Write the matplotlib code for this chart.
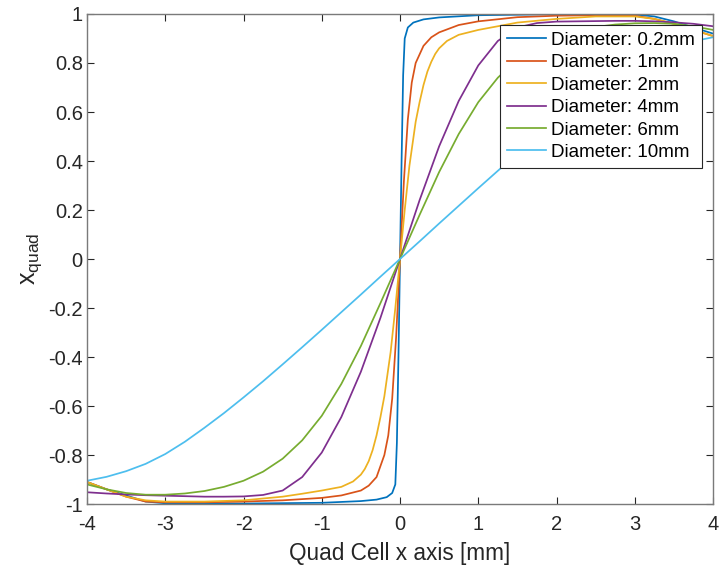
import matplotlib
matplotlib.use("Agg")
import matplotlib.pyplot as plt
from matplotlib.ticker import FormatStrFormatter

plt.rcParams['font.family'] = ['Liberation Sans', 'DejaVu Sans']
plt.rcParams['mathtext.fontset'] = 'custom'
plt.rcParams['mathtext.rm'] = 'Liberation Sans'
plt.rcParams['mathtext.it'] = 'Liberation Sans'
plt.rcParams['axes.unicode_minus'] = False

# beam diameter sweep
labels = ['Diameter: 0.2mm', 'Diameter: 1mm', 'Diameter: 2mm',
          'Diameter: 4mm', 'Diameter: 6mm', 'Diameter: 10mm']

x_02 = [-4, -3.75, -3.5, -3.25, -3, -2, -1, -0.5, -0.3, -0.17, -0.1, -0.06, -0.04, -0.02, 0,
        0.02, 0.04, 0.06, 0.1, 0.17, 0.3, 0.5, 1, 2, 3, 3.25, 3.5, 3.75, 4]
y_02 = [-0.91, -0.94, -0.965, -0.99, -0.997, -0.998, -0.995, -0.988, -0.982, -0.972, -0.955, -0.92, -0.75, -0.4, 0,
        0.4, 0.75, 0.9, 0.945, 0.965, 0.978, 0.986, 0.995, 0.999, 0.998, 0.99, 0.97, 0.945, 0.92]

x_1 = [-4, -3.75, -3.5, -3.25, -3, -2.5, -2, -1.5, -1, -0.75, -0.5, -0.4, -0.3, -0.2, -0.15, -0.1, -0.05, 0,
       0.05, 0.1, 0.15, 0.2, 0.3, 0.4, 0.5, 0.75, 1, 1.5, 2, 2.5, 3, 3.25, 3.5, 3.75, 4]
y_1 = [-0.91, -0.94, -0.97, -0.99, -0.993, -0.993, -0.99, -0.985, -0.975, -0.965, -0.945, -0.925, -0.89, -0.8, -0.72, -0.57, -0.32, 0,
       0.32, 0.57, 0.72, 0.8, 0.87, 0.905, 0.925, 0.955, 0.97, 0.987, 0.993, 0.995, 0.993, 0.98, 0.96, 0.935, 0.91]

x_2 = [-4, -3.75, -3.5, -3.25, -3, -2.5, -2, -1.5, -1.25, -1, -0.75, -0.6, -0.5, -0.45, -0.4, -0.35, -0.3, -0.25, -0.2, -0.12, -0.06, 0,
       0.06, 0.12, 0.2, 0.25, 0.3, 0.35, 0.4, 0.45, 0.5, 0.6, 0.75, 1, 1.25, 1.5, 2, 2.5, 3, 3.25, 3.5, 3.75, 4]
y_2 = [-0.91, -0.94, -0.97, -0.985, -0.99, -0.99, -0.985, -0.97, -0.958, -0.945, -0.93, -0.908, -0.88, -0.857, -0.825, -0.78, -0.72, -0.645, -0.56, -0.38, -0.2, 0,
       0.2, 0.38, 0.56, 0.64, 0.71, 0.765, 0.805, 0.837, 0.86, 0.89, 0.915, 0.935, 0.95, 0.965, 0.98, 0.99, 0.99, 0.98, 0.96, 0.935, 0.91]

x_4 = [-4, -3.75, -3.5, -3.25, -3, -2.75, -2.5, -2.25, -2, -1.75, -1.5, -1.25, -1, -0.75, -0.5, -0.25, 0,
       0.25, 0.5, 0.75, 1, 1.25, 1.5, 1.75, 2, 2.25, 2.5, 2.75, 3, 3.25, 3.5, 3.75, 4]
y_4 = [-0.952, -0.957, -0.961, -0.964, -0.966, -0.968, -0.97, -0.97, -0.969, -0.963, -0.945, -0.89, -0.79, -0.645, -0.46, -0.24, 0,
       0.24, 0.46, 0.645, 0.79, 0.89, 0.945, 0.963, 0.969, 0.97, 0.971, 0.972, 0.972, 0.97, 0.966, 0.96, 0.95]

x_6 = [-4, -3.75, -3.5, -3.25, -3, -2.75, -2.5, -2.25, -2, -1.75, -1.5, -1.25, -1, -0.75, -0.5, -0.25, 0,
       0.25, 0.5, 0.75, 1, 1.25, 1.5, 1.75, 2, 2.25, 2.5, 2.75, 3, 3.25, 3.5, 3.75, 4]
y_6 = [-0.92, -0.94, -0.955, -0.962, -0.962, -0.957, -0.947, -0.93, -0.905, -0.868, -0.815, -0.74, -0.64, -0.51, -0.355, -0.18, 0,
       0.18, 0.355, 0.51, 0.64, 0.74, 0.815, 0.868, 0.905, 0.93, 0.947, 0.957, 0.962, 0.963, 0.96, 0.95, 0.935]

x_10 = [-4, -3.75, -3.5, -3.25, -3, -2.75, -2.5, -2.25, -2, -1.75, -1.5, -1.25, -1, -0.75, -0.5, -0.25, 0,
        0.25, 0.5, 0.75, 1, 1.25, 1.5, 1.75, 2, 2.25, 2.5, 2.75, 3, 3.25, 3.5, 3.75, 4]
y_10 = [-0.905, -0.889, -0.866, -0.836, -0.796, -0.746, -0.689, -0.629, -0.565, -0.499, -0.43, -0.36, -0.289, -0.217, -0.145, -0.072, 0,
        0.072, 0.145, 0.217, 0.289, 0.36, 0.43, 0.499, 0.565, 0.629, 0.689, 0.746, 0.796, 0.836, 0.866, 0.889, 0.905]

colors = ['#0072BD', '#D95319', '#EDB120', '#7E2F8E', '#77AC30', '#4DBEEE']

fig = plt.figure(figsize=(7.19, 5.69), dpi=100)
ax = fig.add_axes([0.121, 0.1142, 0.8707, 0.8612])

series = [(x_02, y_02), (x_1, y_1), (x_2, y_2), (x_4, y_4), (x_6, y_6), (x_10, y_10)]
for (xs, ys), c, lab in zip(series, colors, labels):
    ax.plot(xs, ys, color=c, lw=1.25, label=lab)

ax.set_xlim(-4, 4)
ax.set_ylim(-1, 1)
ax.set_xticks(range(-4, 5))
ax.set_yticks([-1, -0.8, -0.6, -0.4, -0.2, 0, 0.2, 0.4, 0.6, 0.8, 1])
ax.yaxis.set_major_formatter(FormatStrFormatter('%g'))
ax.tick_params(direction='in', top=True, right=True, length=5, width=0.8,
               labelsize=14.5, colors='#262626')
ax.tick_params(axis='y', pad=3)
ax.tick_params(axis='x', pad=8)
for s in ax.spines.values():
    s.set_color('#7a7a7a')
    s.set_linewidth(1.0)

ax.set_xlabel('Quad Cell x axis [mm]', fontsize=16.3, color='#262626', labelpad=6)
ax.set_ylabel(r'$\mathregular{x_{quad}}$', fontsize=18, color='#262626', labelpad=3)

leg = ax.legend(loc='upper right', bbox_to_anchor=(0.982, 0.978), borderaxespad=0,
                fontsize=13.5, fancybox=False, framealpha=1, edgecolor='#262626',
                handlelength=2.1, handletextpad=0.25, labelspacing=0.28,
                borderpad=0.38)
leg.get_frame().set_linewidth(0.8)

fig.savefig('out.png', dpi=100)
